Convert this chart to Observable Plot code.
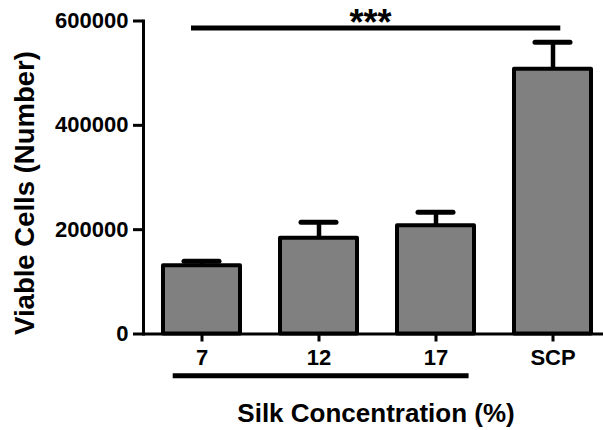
<!DOCTYPE html>
<html><head><meta charset="utf-8">
<script src="https://cdn.jsdelivr.net/npm/d3@7"></script>
<script src="https://cdn.jsdelivr.net/npm/@observablehq/plot@0.6"></script>
<style>body{margin:0;background:#fff} svg{display:block}</style>
</head><body><div id="chart"></div>
<script>
const categories = ["7", "12", "17", "SCP"];
const means = [130700, 183600, 207400, 507600];
const errors = [8700, 30700, 26100, 51600];
const yTicks = [0, 200000, 400000, 600000];
const xTitle = "Silk Concentration (%)";
const yTitle = "Viable Cells (Number)";
const sigTop = {from: "7", to: "SCP", value: 586600, label: "***"};
const sigBottom = {from: "7", to: "17", value: -79900};

const data = categories.map((c, i) => ({cat: c, mean: means[i], hi: means[i] + errors[i]}));
const font = "'Liberation Sans', Arial, sans-serif";

const chart = Plot.plot({
  width: 603, height: 430,
  marginLeft: 143, marginRight: 0, marginTop: 20.5, marginBottom: 96.5,
  style: {fontFamily: font, background: "#fff", color: "#000", overflow: "visible"},
  x: {domain: categories, paddingInner: 0.344, paddingOuter: 0.131, align: 0.617, label: null},
  y: {domain: [0, 600000], label: null},
  marks: [
    Plot.ruleX(data, {x: "cat", y1: "mean", y2: "hi", stroke: "#000", strokeWidth: 4.5}),
    Plot.tickY(data, {x: "cat", y: "hi", stroke: "#000", strokeWidth: 5, strokeLinecap: "round", insetLeft: 21, insetRight: 21}),
    Plot.barY(data, {x: "cat", y: "mean", fill: "#808080", stroke: "#000", strokeWidth: 4, strokeLinejoin: "round"}),
    Plot.ruleY([0], {stroke: "#000", strokeWidth: 3}),
    Plot.frame({anchor: "left", stroke: "#000", strokeWidth: 3}),
    Plot.axisY({ticks: yTicks, tickFormat: d => String(d), tickSize: 10, tickPadding: 5, strokeWidth: 3, fontSize: 22, fontWeight: "bold", label: null}),
    Plot.axisX({tickSize: 8, tickPadding: 7, strokeWidth: 3, fontSize: 22, fontWeight: "bold", label: null}),
    Plot.ruleY([sigTop], {x1: "from", x2: "to", y: "value", stroke: "#000", strokeWidth: 5, insetLeft: 28, insetRight: 30.7}),
    Plot.ruleY([sigBottom], {x1: "from", x2: "to", y: "value", stroke: "#000", strokeWidth: 5, insetLeft: 9.7, insetRight: 5.4}),
    Plot.text([sigTop], {text: "label", frameAnchor: "top", lineAnchor: "top", dy: -11.2, dx: -3, fontSize: 36, fontWeight: "bold"}),
    Plot.text([yTitle], {frameAnchor: "left", rotate: -90, textAnchor: "middle", lineAnchor: "middle", dx: -118, dy: 15.5, fontSize: 27.5, fontWeight: "bold"}),
    Plot.text([xTitle], {frameAnchor: "bottom", lineAnchor: "top", dy: 69.8, dx: 2.5, fontSize: 26, fontWeight: "bold"})
  ]
});
document.getElementById("chart").appendChild(chart);
</script>
</body></html>
